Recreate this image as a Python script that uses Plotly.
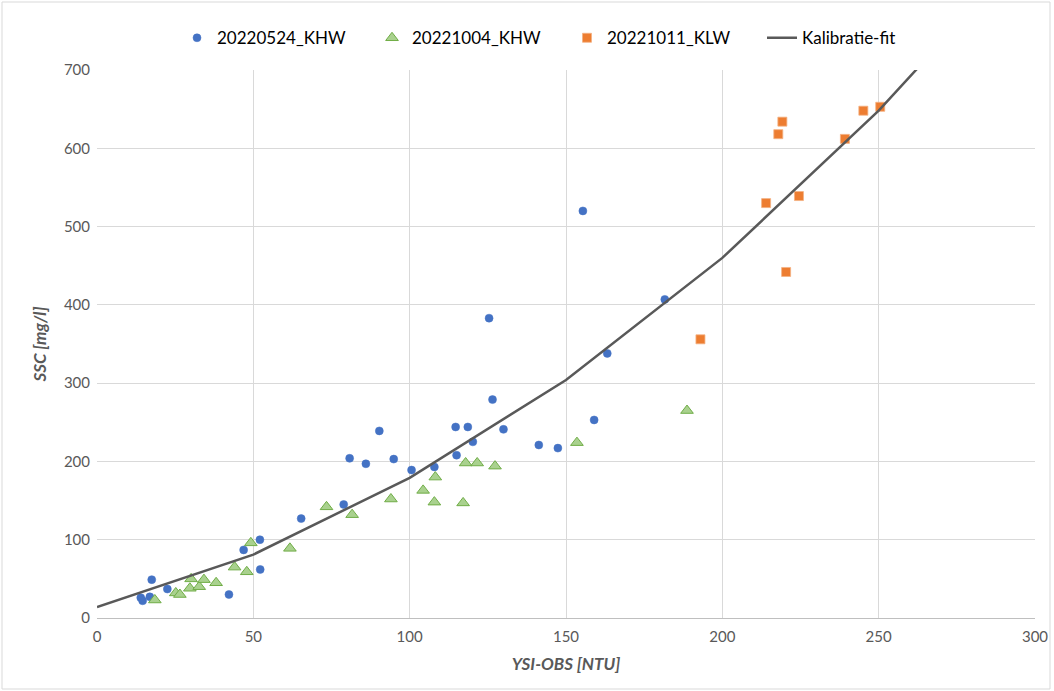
import plotly.graph_objects as go

# 20220524_KHW (blue circles)
khw0524_x = [14.0, 14.6, 16.9, 17.5, 22.5, 42.2, 46.9, 52.1, 52.2, 65.3, 78.9, 80.8, 86.0, 90.3,
             94.9, 100.6, 107.9, 114.7, 118.6, 115.0, 120.2, 126.5, 125.4, 130.0, 141.3, 147.4,
             155.4, 159.0, 163.2, 181.6]
khw0524_y = [26, 22, 27, 49, 37, 30, 87, 100, 62, 127, 145, 204, 197, 239,
             203, 189, 193, 244, 244, 208, 225, 279, 383, 241, 221, 217,
             520, 253, 338, 407]

# 20221004_KHW (green triangles)
khw1004_x = [18.5, 25.2, 26.5, 29.7, 30.1, 32.7, 34.2, 38.1, 44.0, 47.9, 49.2, 61.7, 73.4, 81.6,
             94.0, 104.3, 107.9, 108.2, 117.1, 117.9, 121.6, 127.3, 153.5, 188.7]
khw1004_y = [23, 32, 30, 38, 50, 40, 49, 45, 65, 59, 96, 89, 142, 132,
             152, 163, 148, 180, 147, 198, 198, 194, 224, 265]

# 20221011_KLW (orange squares)
klw1011_x = [193.0, 214.0, 217.9, 219.2, 220.4, 224.5, 239.2, 245.1, 250.5]
klw1011_y = [356, 530, 618, 634, 442, 539, 612, 648, 653]

# Kalibratie-fit
fit_x = [0, 50, 100, 150, 200, 250, 300]
fit_y = [14, 81, 179, 304, 460, 648, 866]

x_ticks = [0, 50, 100, 150, 200, 250, 300]
y_ticks = [0, 100, 200, 300, 400, 500, 600, 700]

FONT = "Lato, 'Open Sans', sans-serif"
GREY = "#595959"

fig = go.Figure()
fig.add_trace(go.Scatter(x=khw0524_x, y=khw0524_y, mode="markers", name="20220524_KHW",
                         marker=dict(symbol="circle", size=8, color="#4472C4",
                                     line=dict(color="#4472C4", width=0.5))))
fig.add_trace(go.Scatter(x=khw1004_x, y=khw1004_y, mode="markers", name="20221004_KHW",
                         marker=dict(symbol="triangle-up", size=11, color="#A9D18E",
                                     line=dict(color="#70AD47", width=1))))
fig.add_trace(go.Scatter(x=klw1011_x, y=klw1011_y, mode="markers", name="20221011_KLW",
                         marker=dict(symbol="square", size=9, color="#ED7D31",
                                     line=dict(color="#F4B183", width=0.8))))
fig.add_trace(go.Scatter(x=fit_x, y=fit_y, mode="lines", name="Kalibratie-fit",
                         line=dict(color=GREY, width=2.5)))

fig.update_layout(
    width=1054, height=691,
    margin=dict(l=97, r=19, t=70, b=73),
    paper_bgcolor="white", plot_bgcolor="white",
    font=dict(family=FONT, size=15, color=GREY),
    showlegend=True,
    legend=dict(orientation="h", x=0.0853, xanchor="left", y=1.058, yanchor="middle",
                font=dict(size=17, color="#000000"), itemwidth=30, tracegroupgap=0,
                entrywidth=150, entrywidthmode="pixels",
                bgcolor="rgba(0,0,0,0)"),
    xaxis=dict(range=[0, 300], tickvals=x_ticks, showgrid=True, gridcolor="#D9D9D9",
               gridwidth=1, zeroline=False, showline=True, linecolor="#BFBFBF", linewidth=1,
               ticks="", tickfont=dict(size=15, color=GREY), automargin=False,
               ticklabelstandoff=5,
               title=dict(text="<b><i>YSI-OBS [NTU]</i></b>", font=dict(size=17, color=GREY),
                          standoff=14)),
    yaxis=dict(range=[0, 700], tickvals=y_ticks, showgrid=True, gridcolor="#D9D9D9",
               gridwidth=1, zeroline=False, showline=False, automargin=False,
               ticks="", tickfont=dict(size=15, color=GREY), ticklabelstandoff=6,
               title=dict(text="<b><i>SSC [mg/l]</i></b>", font=dict(size=17, color=GREY),
                          standoff=12)),
)

# chart outer border
fig.add_shape(type="rect", xref="paper", yref="paper",
              x0=-95 / 938, x1=1 + 15 / 938, y0=-71 / 548, y1=1 + 68 / 548,
              line=dict(color="#D9D9D9", width=1), layer="below")

fig.write_html("out.html", config={"displayModeBar": False},
               post_script="document.body.style.margin='0';")
